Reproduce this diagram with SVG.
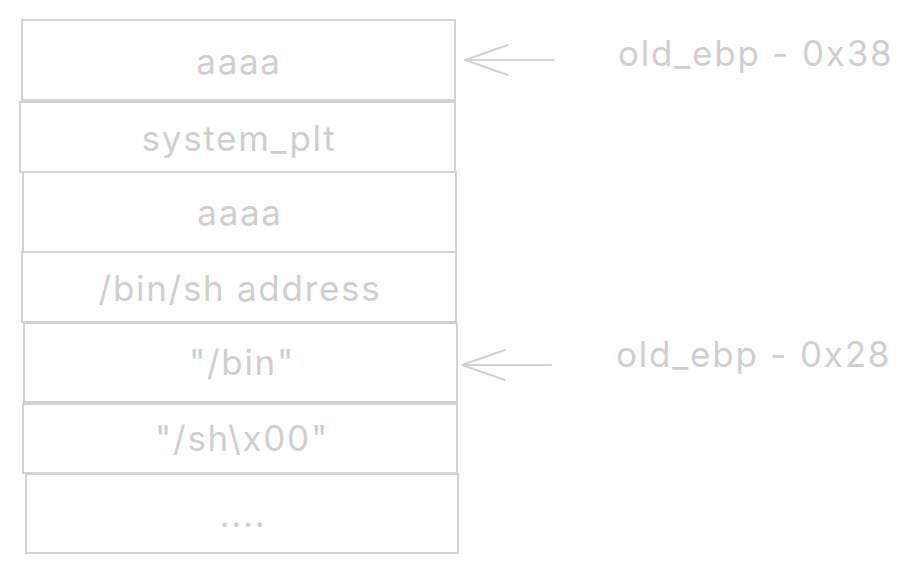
<svg xmlns="http://www.w3.org/2000/svg" width="915" height="573" viewBox="0 0 915 573">
<style>
.box{fill:#ffffff;stroke:#d3d3d3;stroke-width:2}
.t{font-family:Inter,"Noto Sans",sans-serif;font-size:35px;letter-spacing:1.7px;fill:#cfcfcf;text-anchor:middle}
.lbl{font-family:Inter,"Noto Sans",sans-serif;font-size:35px;letter-spacing:1.8px;fill:#cfcfcf}
.conn{fill:none;stroke:#d3d3d3;stroke-width:2;stroke-linecap:round;stroke-linejoin:round}
</style>
<rect width="915" height="573" fill="#ffffff"/>
<g id="node-aaaa1"><rect class="box" x="22" y="20" width="433" height="80"/><text class="t" x="239" y="74">aaaa</text></g>
<g id="node-system_plt"><rect class="box" x="20" y="102" width="435" height="70"/><text class="t" x="239" y="151">system_plt</text></g>
<g id="node-aaaa2"><rect class="box" x="23" y="172" width="433" height="80"/><text class="t" x="240" y="225">aaaa</text></g>
<g id="node-binsh-addr"><rect class="box" x="22" y="252" width="434" height="70"/><text class="t" x="240" y="301">/bin/sh address</text></g>
<g id="node-bin"><rect class="box" x="24" y="323" width="433" height="79"/><text class="t" x="242" y="375">"/bin"</text></g>
<g id="node-sh"><rect class="box" x="23" y="404" width="434" height="69"/><text class="t" x="242" y="451">"/sh\x00"</text></g>
<g id="node-dots"><rect class="box" x="26" y="474" width="432" height="79"/><text class="t" x="243" y="527">....</text></g>
<g id="connectors">
<path class="conn" d="M554 60 H465 M508 45 L465 60 L508 75"/>
<path class="conn" d="M551 365 H462 M505 350 L462 365 L505 380"/>
</g>
<g id="labels">
<text class="lbl" x="618" y="66">old_ebp - 0x38</text>
<text class="lbl" x="616" y="367">old_ebp - 0x28</text>
</g>
</svg>
